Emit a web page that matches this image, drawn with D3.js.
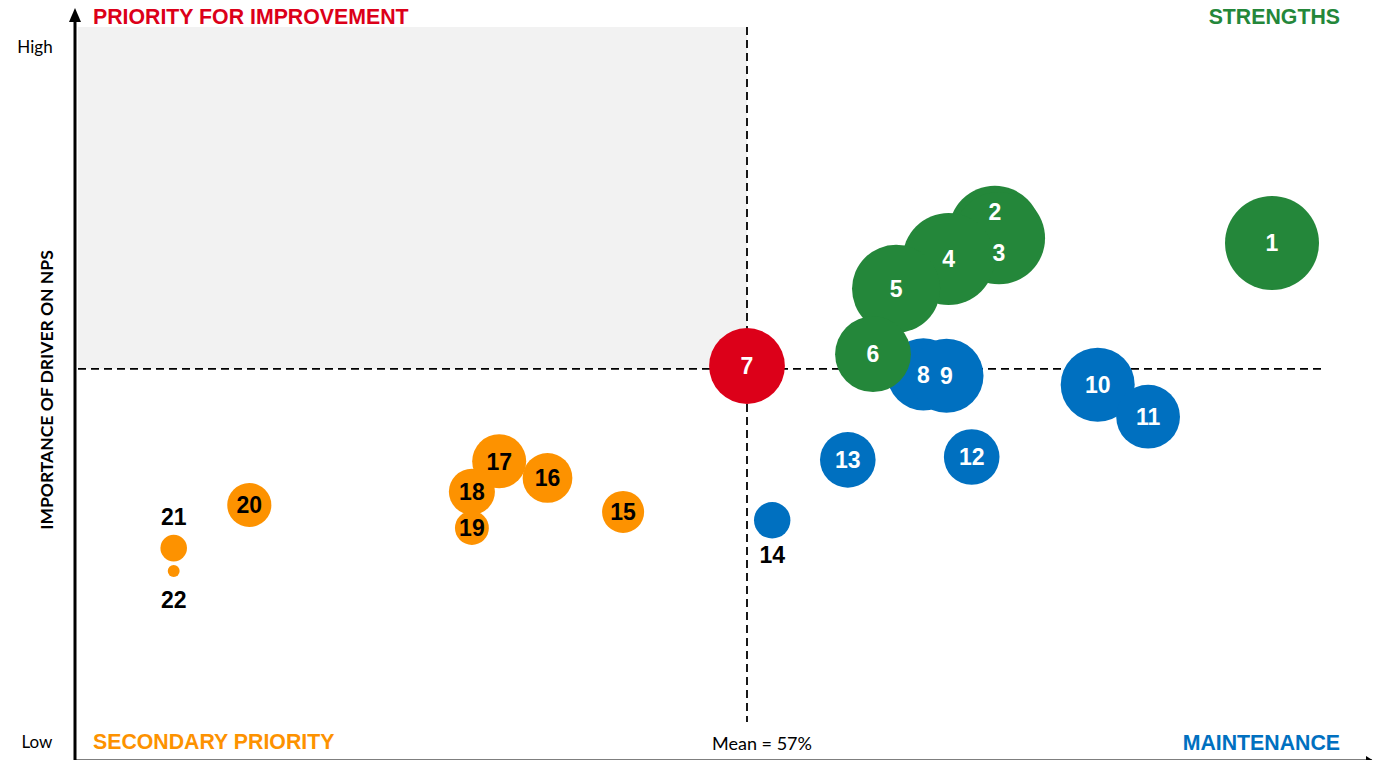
<!DOCTYPE html>
<html>
<head>
<meta charset="utf-8">
<script src="https://cdn.jsdelivr.net/npm/d3@7"></script>
<style>
  body { margin: 0; background: #fff; }
  svg { display: block; font-family: "Liberation Sans", Arial, sans-serif; }
</style>
</head>
<body>
<div id="chart"></div>
<script>
// Define SVG area dimensions
var svgWidth = 1387;
var svgHeight = 760;

// Driver data
var drivers = ["1","2","3","4","5","6","7","8","9","10","11","12","13","14","15","16","17","18","19","20","21","22"];
var satisfaction = [82.0, 68.8, 69.0, 66.6, 64.1, 63.0, 57.0, 65.4, 66.5, 73.7, 76.1, 67.7, 61.8, 58.2, 51.1, 47.5, 45.2, 43.9, 43.9, 33.3, 29.7, 29.7];
var importance = [71.8, 73.4, 72.5, 69.5, 65.2, 55.8, 54.1, 52.9, 52.7, 51.4, 46.8, 41.0, 40.6, 31.9, 33.1, 38.0, 40.4, 36.0, 30.8, 34.1, 27.9, 24.6];
var bubbleSize = [100, 96, 96, 96, 88, 65, 65, 59, 62, 62, 46, 35, 35, 15, 20, 28, 33, 24, 13, 22, 8, 1.6];
var quadrant = ["S","S","S","S","S","S","P","M","M","M","M","M","M","M","L","L","L","L","L","L","L","L"];

var meanSatisfaction = 57;
var meanImportance = 53.7;

var colors = { S: "#24873a", M: "#0070c0", L: "#fd9200", P: "#dc0019" };
var labelColors = { S: "#fff", M: "#fff", L: "#000", P: "#fff" };
// draw order of the series (later ones sit on top)
var drawOrder = ["M", "S", "L", "P"];

// labels that had been nudged away from the bubble centre
var labelNudge = { "2": -20, "3": 15, "14": 34, "21": -31, "22": 29 };
var outsideLabels = ["14", "21", "22"];

// Chart frame
var margin = { top: 27, right: 52, bottom: 18, left: 75 };

var svg = d3.select("#chart")
  .append("svg")
  .attr("width", svgWidth)
  .attr("height", svgHeight);

var x = d3.scaleLinear().domain([25, 85]).range([margin.left, svgWidth - margin.right]);
var y = d3.scaleLinear().domain([0, 100]).range([742, 47]);
var r = d3.scaleSqrt().domain([0, 100]).range([0, 47]);

// shaded priority-for-improvement quadrant
svg.append("rect")
  .attr("x", margin.left + 3)
  .attr("y", margin.top)
  .attr("width", x(meanSatisfaction) - margin.left - 3)
  .attr("height", y(meanImportance) - margin.top)
  .attr("fill", "#f2f2f2");

// mean lines
svg.append("line")
  .attr("x1", x(meanSatisfaction)).attr("x2", x(meanSatisfaction))
  .attr("y1", margin.top).attr("y2", 722)
  .attr("stroke", "#000").attr("stroke-width", 1.8)
  .attr("stroke-dasharray", "8,5");

svg.append("line")
  .attr("x1", margin.left + 3).attr("x2", 1323)
  .attr("y1", y(meanImportance)).attr("y2", y(meanImportance))
  .attr("stroke", "#000").attr("stroke-width", 1.8)
  .attr("stroke-dasharray", "8,5");

// y axis with arrow
svg.append("line")
  .attr("x1", margin.left).attr("x2", margin.left)
  .attr("y1", 18).attr("y2", svgHeight)
  .attr("stroke", "#000").attr("stroke-width", 3);
svg.append("path")
  .attr("d", `M${margin.left - 6},22 L${margin.left},8 L${margin.left + 6},22 Z`)
  .attr("fill", "#000");

// x axis sits just below the visible frame, only its arrow tip shows
svg.append("line")
  .attr("x1", margin.left).attr("x2", 1372)
  .attr("y1", 761).attr("y2", 761)
  .attr("stroke", "#000").attr("stroke-width", 3);
svg.append("path")
  .attr("d", "M1366,756 L1374,761 L1366,766 Z")
  .attr("fill", "#000");

// axis end labels
svg.append("text").attr("x", 35).attr("y", 53).attr("text-anchor", "middle")
  .attr("font-family", "Lato, sans-serif").attr("font-size", 17).text("High");
svg.append("text").attr("x", 37).attr("y", 748).attr("text-anchor", "middle")
  .attr("font-family", "Lato, sans-serif").attr("font-size", 17).text("Low");

svg.append("text")
  .attr("transform", "translate(53,390) rotate(-90)")
  .attr("text-anchor", "middle")
  .attr("font-family", "Lato, sans-serif")
  .attr("font-size", 17.5).attr("font-weight", "bold")
  .text("IMPORTANCE OF DRIVER ON NPS");

svg.append("text").attr("x", x(meanSatisfaction) + 15).attr("y", 750)
  .attr("text-anchor", "middle")
  .attr("font-family", "Lato, sans-serif").attr("font-size", 18)
  .text("Mean = 57%");

// quadrant titles
var titles = [
  { t: "PRIORITY FOR IMPROVEMENT", x: 93, y: 24, a: "start", c: colors.P },
  { t: "STRENGTHS", x: 1340, y: 24, a: "end", c: colors.S },
  { t: "SECONDARY PRIORITY", x: 93, y: 749, a: "start", c: colors.L },
  { t: "MAINTENANCE", x: 1340, y: 750, a: "end", c: colors.M }
];
svg.selectAll(".qtitle").data(titles).enter().append("text")
  .attr("class", "qtitle")
  .attr("x", d => d.x).attr("y", d => d.y)
  .attr("text-anchor", d => d.a)
  .attr("font-size", 21.3).attr("font-weight", "bold")
  .attr("fill", d => d.c)
  .text(d => d.t);

// build points and sort by series draw order
var points = drivers.map((id, i) => ({
  id: id, sx: satisfaction[i], iy: importance[i], size: bubbleSize[i], q: quadrant[i], i: i
}));
points.sort((a, b) => drawOrder.indexOf(a.q) - drawOrder.indexOf(b.q) || a.i - b.i);

svg.append("g").selectAll("circle").data(points).enter().append("circle")
  .attr("cx", d => x(d.sx))
  .attr("cy", d => y(d.iy))
  .attr("r", d => r(d.size))
  .attr("fill", d => colors[d.q]);

svg.append("g").selectAll("text").data(points).enter().append("text")
  .attr("x", d => x(d.sx))
  .attr("y", d => y(d.iy) + (labelNudge[d.id] || 0))
  .attr("dy", "0.36em")
  .attr("text-anchor", "middle")
  .attr("font-size", 23).attr("font-weight", "bold")
  .attr("fill", d => outsideLabels.includes(d.id) ? "#000" : labelColors[d.q])
  .text(d => d.id);
</script>
</body>
</html>
